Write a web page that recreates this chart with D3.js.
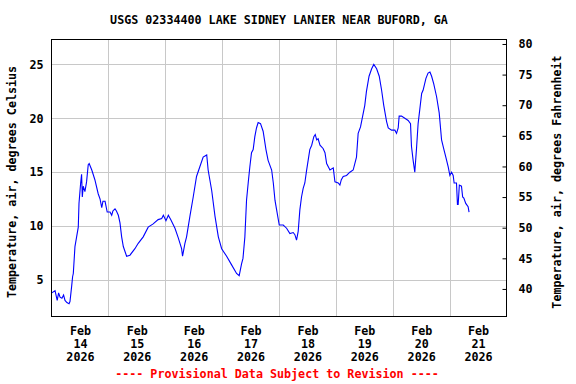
<!DOCTYPE html>
<html>
<head>
<meta charset="utf-8">
<script src="https://cdn.jsdelivr.net/npm/d3@7"></script>
<style>
  body { margin: 0; background: #fff; }
  svg text { font-family: "DejaVu Sans Mono", "Liberation Mono", monospace; font-weight: bold; font-size: 11.7px; }
</style>
</head>
<body>
<svg width="576" height="384"></svg>
<script>
// ---------------------------------------------------------------------
// Values. Times are hours after Feb 14 00:00.
// ---------------------------------------------------------------------
const TITLE     = "USGS 02334400 LAKE SIDNEY LANIER NEAR BUFORD, GA";
const FOOTER    = "---- Provisional Data Subject to Revision ----";
const Y_LABEL_C = "Temperature, air, degrees Celsius";
const Y_LABEL_F = "Temperature, air, degrees Fahrenheit";

const dayLabels  = ["14", "15", "16", "17", "18", "19", "20", "21"];
const monthLabel = "Feb";
const yearLabel  = "2026";
const celsiusTicks    = [5, 10, 15, 20, 25];
const fahrenheitTicks = [40, 45, 50, 55, 60, 65, 70, 75, 80];

const hours = [
  0.1, 1.5, 2.4, 3.0, 3.6, 4.4, 5.1, 5.7, 6.5, 7.4, 7.8, 8.5, 8.9, 9.2, 9.9,
  10.6, 11.3, 11.6, 12.3, 12.7, 13.0, 13.4, 14.1, 14.8, 15.5, 15.9, 17.0, 18.3,
  19.7, 20.5, 21.2, 21.7, 22.6, 23.5, 24.7, 25.4, 25.9, 26.8, 27.4, 28.2, 28.9,
  29.6, 30.3, 31.7, 33.1, 35.2, 36.6, 38.7, 40.8, 42.9, 45.0, 46.5, 47.2, 48.3,
  49.3, 50.3, 52.1, 53.5, 54.9, 55.3, 56.3, 57.0, 58.4, 59.8, 61.2, 62.6, 64.0,
  65.5, 66.1, 67.6, 69.0, 70.4, 71.8, 73.9, 76.0, 78.1, 79.2, 80.2, 80.8, 81.6,
  82.3, 83.0, 83.7, 84.4, 85.1, 85.8, 86.5, 87.2, 88.2, 89.3, 90.5, 91.4, 92.9,
  93.6, 94.3, 95.0, 96.1, 97.8, 99.2, 100.6, 102.0, 102.7, 103.4, 104.1, 104.8,
  105.5, 106.2, 106.9, 107.6, 108.3, 109.0, 109.8, 110.7, 111.3, 111.9, 112.5,
  113.3, 114.6, 115.4, 116.1, 116.8, 117.5, 118.9, 119.6, 121.0, 121.7, 122.3,
  123.1, 124.5, 125.9, 127.3, 128.7, 129.4, 130.4, 131.3, 132.2, 132.9, 134.0,
  135.1, 136.0, 137.2, 138.3, 139.3, 140.2, 141.4, 142.1, 143.5, 144.9, 145.6,
  146.3, 146.7, 147.7, 149.1, 150.5, 151.5, 151.9, 152.6, 153.3, 154.0, 154.7,
  155.4, 156.2, 156.8, 158.0, 158.9, 159.7, 160.4, 161.3, 162.5, 163.6, 164.6,
  165.6, 166.4, 167.4, 168.1, 168.8, 169.5, 169.9, 170.9, 171.3, 171.6, 172.1,
  173.0, 173.5, 174.0, 174.8, 175.8, 176.2
];
const tempC = [
  3.8, 4.0, 3.1, 3.8, 3.4, 3.3, 3.6, 3.1, 2.9, 2.8, 3.0, 4.4, 5.3, 5.6, 8.1,
  9.0, 9.9, 12.1, 14.0, 14.8, 12.7, 13.7, 13.2, 14.1, 15.7, 15.8, 15.2, 14.3,
  13.0, 12.5, 11.7, 12.3, 12.3, 11.3, 11.3, 11.0, 11.4, 11.6, 11.4, 11.0, 10.3,
  9.0, 8.1, 7.2, 7.3, 7.9, 8.4, 9.0, 9.9, 10.2, 10.6, 10.7, 11.0, 10.5,
  11.0, 10.6, 9.8, 8.9, 7.9, 7.2, 8.4, 9.0, 10.9, 12.7, 14.6, 15.5, 16.4,
  16.6, 15.2, 13.3, 10.9, 9.0, 7.9, 7.2, 6.4, 5.6, 5.4, 6.5, 7.0, 9.0,
  12.4, 14.0, 15.5, 16.8, 17.1, 18.3, 19.1, 19.6, 19.5, 18.8, 17.1, 16.1, 15.2,
  14.0, 12.4, 11.5, 10.1, 10.1, 9.8, 9.3, 9.4, 9.2, 8.7, 9.5, 11.5,
  12.7, 13.5, 14.0, 15.1, 16.1, 17.1, 17.5, 18.3, 18.5, 18.0, 18.1,
  17.5, 17.2, 16.8, 15.8, 15.5, 15.2, 15.4, 14.1, 14.0, 13.8, 14.3,
  14.6, 14.7, 15.0, 15.2, 16.4, 18.6, 19.2, 20.2, 21.2, 22.5, 23.9,
  24.6, 25.0, 24.6, 23.9, 22.6, 21.2, 19.7, 19.1, 18.9, 18.9, 18.6,
  19.1, 20.2, 20.2, 20.0, 19.8, 19.5, 17.4, 16.1, 15.0, 17.1, 19.5,
  20.8, 22.3, 22.6, 23.7, 24.2, 24.3, 23.9, 23.2, 22.0, 20.5, 18.0,
  17.1, 16.4, 15.5, 14.7, 15.0, 14.7, 14.0, 14.0, 12.0, 12.0, 13.8,
  13.7, 12.7, 12.6, 12.1, 11.8, 11.3
];

// ---------------------------------------------------------------------
// Layout
// ---------------------------------------------------------------------
const svg     = d3.select("svg"),
      pLeft   = 51.5,
      pRight  = 506.5,
      pTop    = 39.5,
      pBottom = 316.5,
      start   = Date.UTC(2026, 1, 14),
      HOUR    = 3600e3,
      DAY     = 24 * HOUR;

// the fahrenheit axis of the original is drawn on its own range, a bit
// wider than the exact conversion of the celsius one
const x  = d3.scaleUtc()
             .domain([new Date(start), new Date(start + 8 * DAY)])
             .range([pLeft, pRight]),
      yC = d3.scaleLinear().domain([1.61, 27.31]).range([pBottom, pTop]),
      yF = d3.scaleLinear().domain([35.5, 80.73]).range([pBottom, pTop]);

const data = hours.map((h, i) => [new Date(start + h * HOUR), tempC[i]]);

// gridlines: horizontal at celsius ticks, vertical at each midnight
const gGrid = svg.append("g").attr("stroke", "#c8c8c8").attr("stroke-width", 1);
gGrid.selectAll(".hgrid").data(celsiusTicks)
  .enter().append("line")
    .attr("x1", pLeft).attr("x2", pRight)
    .attr("y1", d => Math.round(yC(d)) + 0.5)
    .attr("y2", d => Math.round(yC(d)) + 0.5);
const midnights = d3.range(1, 8).map(i => new Date(start + i * DAY));
gGrid.selectAll(".vgrid").data(midnights)
  .enter().append("line")
    .attr("y1", pTop).attr("y2", pBottom)
    .attr("x1", d => Math.round(x(d)) + 0.5)
    .attr("x2", d => Math.round(x(d)) + 0.5);

// the data line
svg.append("path")
  .datum(data)
  .attr("fill", "none")
  .attr("stroke", "#0000ff")
  .attr("stroke-width", 1.1)
  .attr("d", d3.line().x(d => x(d[0])).y(d => yC(d[1])));

// frame
svg.append("rect")
  .attr("x", pLeft).attr("y", pTop)
  .attr("width", pRight - pLeft).attr("height", pBottom - pTop)
  .attr("fill", "none").attr("stroke", "#000").attr("stroke-width", 1);

// left axis (celsius)
let gLeft = svg.append("g")
  .attr("transform", `translate(${pLeft},0)`)
  .call(d3.axisLeft(yC).tickValues(celsiusTicks).tickSize(0).tickPadding(8));
gLeft.select(".domain").remove();

// right axis (fahrenheit), ticks point into the plot
let gRight = svg.append("g")
  .attr("transform", `translate(${pRight},0)`)
  .call(d3.axisRight(yF).tickValues(fahrenheitTicks).tickSize(-4).tickPadding(12));
gRight.select(".domain").remove();
gRight.selectAll(".tick line").attr("stroke", "#000");

// bottom axis: three line labels centred on each day
const noons = dayLabels.map((d, i) => new Date(start + i * DAY + 12 * HOUR));
let gBottom = svg.append("g")
  .attr("transform", `translate(0,${pBottom})`)
  .call(d3.axisBottom(x).tickValues(noons).tickSize(0).tickFormat(""));
gBottom.select(".domain").remove();
gBottom.selectAll(".tick text")
  .attr("y", 0).attr("dy", null)
  .each(function(d, i) {
    let t = d3.select(this);
    [monthLabel, dayLabels[i], yearLabel].forEach((s, k) => {
      t.append("tspan").attr("x", 0).attr("y", 18 + k * 13).text(s);
    });
  });

svg.selectAll(".tick text").attr("fill", "#000").style("font-size", "11.7px");

// titles
svg.append("text")
  .attr("x", (pLeft + pRight) / 2).attr("y", 24)
  .attr("text-anchor", "middle")
  .text(TITLE);

svg.append("text")
  .attr("transform", "translate(16,182) rotate(-90)")
  .attr("text-anchor", "middle")
  .text(Y_LABEL_C);

svg.append("text")
  .attr("transform", "translate(561,182) rotate(-90)")
  .attr("text-anchor", "middle")
  .text(Y_LABEL_F);

svg.append("text")
  .attr("x", 277).attr("y", 378)
  .attr("text-anchor", "middle")
  .attr("fill", "#ff0000")
  .text(FOOTER);
</script>
</body>
</html>
